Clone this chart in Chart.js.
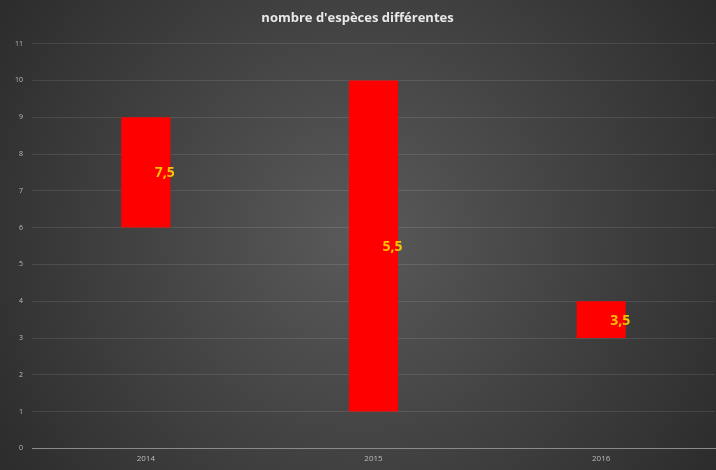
<!DOCTYPE html>
<html lang="fr">
<head>
    <meta charset="UTF-8">
    <title>nombre d'espèces différentes</title>
    <script src="https://cdn.jsdelivr.net/npm/chart.js"></script>
    <style>
        html, body { margin: 0; padding: 0; background: #333; }
        #wrap { width: 716px; height: 470px; }
    </style>
</head>
<body>
    <div id="wrap"><canvas id="chart"></canvas></div>

    <script>
        // Données
        const annees = ['2014', '2015', '2016'];
        const bas = [6, 1, 3];
        const haut = [9, 10, 4];
        const etiquettes = ['7,5', '5,5', '3,5'];
        const graduations = [0, 1, 2, 3, 4, 5, 6, 7, 8, 9, 10, 11];

        // Fond gris dégradé (radial)
        const fondPlugin = {
            id: 'fond',
            beforeDraw(chart) {
                const c = chart.ctx;
                const w = chart.width, h = chart.height;
                const g = c.createRadialGradient(w / 2, h / 2, 0, w / 2, h / 2, w * 0.62);
                g.addColorStop(0, '#5a5a5a');
                g.addColorStop(1, '#2a2a2a');
                c.save();
                c.fillStyle = g;
                c.fillRect(0, 0, w, h);
                c.restore();
            }
        };

        // Étiquettes jaunes à droite du centre des barres
        const etiquettePlugin = {
            id: 'etiquettes',
            afterDatasetsDraw(chart) {
                const c = chart.ctx;
                const meta = chart.getDatasetMeta(0);
                c.save();
                c.fillStyle = '#ffc000';
                c.font = 'bold 14px "Open Sans", sans-serif';
                c.textAlign = 'center';
                c.textBaseline = 'middle';
                meta.data.forEach((bar, i) => {
                    const y = (bar.y + bar.base) / 2;
                    c.fillText(etiquettes[i], bar.x + 19, y + 1);
                });
                c.restore();
            }
        };

        const ctx = document.getElementById('chart').getContext('2d');
        new Chart(ctx, {
            type: 'bar',
            data: {
                labels: annees,
                datasets: [{
                    data: annees.map((a, i) => [bas[i], haut[i]]),
                    backgroundColor: '#ff0000',
                    borderWidth: 0,
                    categoryPercentage: 1,
                    barPercentage: 0.216
                }]
            },
            options: {
                responsive: true,
                maintainAspectRatio: false,
                animation: false,
                layout: { padding: { left: 0, right: 1, top: 0, bottom: 0 } },
                plugins: {
                    legend: { display: false },
                    tooltip: { enabled: false },
                    title: {
                        display: true,
                        text: "nombre d'espèces différentes",
                        color: '#e8e8e8',
                        font: { family: '"Open Sans", sans-serif', size: 13, weight: 'bold' },
                        padding: { top: 10, bottom: 18 }
                    }
                },
                scales: {
                    x: {
                        grid: { display: false, drawTicks: false },
                        border: { display: true, color: '#8a8a8a', width: 1 },
                        ticks: {
                            color: '#bdbdbd',
                            font: { family: '"Open Sans", sans-serif', size: 8 },
                            padding: 6
                        }
                    },
                    y: {
                        min: 0,
                        max: 11,
                        afterBuildTicks(axis) {
                            axis.ticks = graduations.map(v => ({ value: v }));
                        },
                        afterFit(axis) { axis.width = 32; },
                        grid: { color: 'rgba(255,255,255,0.10)', drawTicks: false },
                        border: { display: false },
                        ticks: {
                            color: '#bdbdbd',
                            font: { family: '"Open Sans", sans-serif', size: 7 },
                            padding: 9,
                            align: 'center'
                        }
                    }
                }
            },
            plugins: [fondPlugin, etiquettePlugin]
        });
    </script>
</body>
</html>
